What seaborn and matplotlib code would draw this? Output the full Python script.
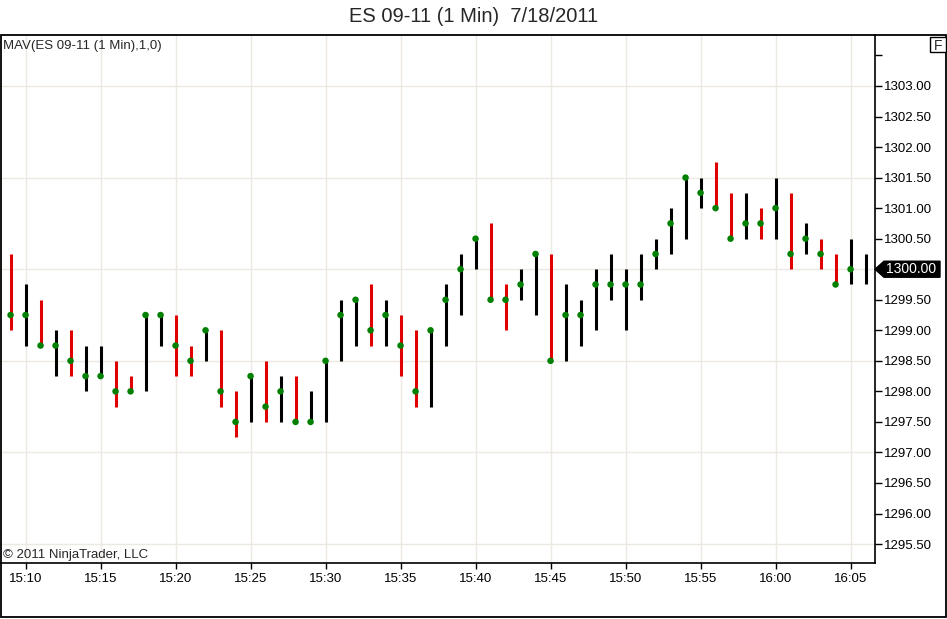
import numpy as np
import pandas as pd
import matplotlib
matplotlib.use("Agg")
import matplotlib.pyplot as plt
from matplotlib.patches import Polygon, Rectangle
from matplotlib.transforms import blended_transform_factory
import seaborn as sns

# ======================================
# DATA (1 minute bars, ES 09-11, 7/18/2011)
# ======================================

start_time = "2011-07-18 15:09"

high = [1300.25, 1299.75, 1299.50, 1299.00, 1299.00, 1298.75, 1298.75, 1298.50,
        1298.25, 1299.25, 1299.25, 1299.25, 1298.75, 1299.00, 1299.00, 1298.00,
        1298.25, 1298.50, 1298.25, 1298.25, 1298.00, 1298.50, 1299.50, 1299.50,
        1299.75, 1299.50, 1299.25, 1299.00, 1299.00, 1299.75, 1300.25, 1300.50,
        1300.75, 1299.75, 1300.00, 1300.25, 1300.25, 1299.75, 1299.50, 1300.00,
        1300.25, 1300.00, 1300.25, 1300.50, 1301.00, 1301.50, 1301.50, 1301.75,
        1301.25, 1301.25, 1301.00, 1301.50, 1301.25, 1300.75, 1300.50, 1300.25,
        1300.50, 1300.25]

low = [1299.00, 1298.75, 1298.75, 1298.25, 1298.25, 1298.00, 1298.25, 1297.75,
       1298.00, 1298.00, 1298.75, 1298.25, 1298.25, 1298.50, 1297.75, 1297.25,
       1297.50, 1297.50, 1297.50, 1297.50, 1297.50, 1297.50, 1298.50, 1298.75,
       1298.75, 1298.75, 1298.25, 1297.75, 1297.75, 1298.75, 1299.25, 1300.00,
       1299.50, 1299.00, 1299.50, 1299.25, 1298.50, 1298.50, 1298.75, 1299.00,
       1299.50, 1299.00, 1299.50, 1300.00, 1300.25, 1300.50, 1301.00, 1301.00,
       1300.50, 1300.50, 1300.50, 1300.50, 1300.00, 1300.25, 1300.00, 1299.75,
       1299.75, 1299.75]

# MAV(close, 1) -- last bar still open, no value drawn
mav = [1299.25, 1299.25, 1298.75, 1298.75, 1298.50, 1298.25, 1298.25, 1298.00,
       1298.00, 1299.25, 1299.25, 1298.75, 1298.50, 1299.00, 1298.00, 1297.50,
       1298.25, 1297.75, 1298.00, 1297.50, 1297.50, 1298.50, 1299.25, 1299.50,
       1299.00, 1299.25, 1298.75, 1298.00, 1299.00, 1299.50, 1300.00, 1300.50,
       1299.50, 1299.50, 1299.75, 1300.25, 1298.50, 1299.25, 1299.25, 1299.75,
       1299.75, 1299.75, 1299.75, 1300.25, 1300.75, 1301.50, 1301.25, 1301.00,
       1300.50, 1300.75, 1300.75, 1301.00, 1300.25, 1300.50, 1300.25, 1299.75,
       1300.00, np.nan]

direction = ["down", "up", "down", "up", "down", "up", "up", "down",
             "down", "up", "up", "down", "down", "up", "down", "down",
             "up", "down", "up", "down", "up", "up", "up", "up",
             "down", "up", "down", "down", "up", "up", "up", "up",
             "down", "down", "up", "up", "down", "up", "up", "up",
             "up", "up", "up", "up", "up", "up", "up", "down",
             "down", "up", "down", "up", "down", "up", "down", "down",
             "up", "up"]

last_price = 1300.00
title = "ES 09-11 (1 Min)  7/18/2011"
indicator_label = "MAV(ES 09-11 (1 Min),1,0)"
copyright_label = "\u00a9 2011 NinjaTrader, LLC"

# ======================================
# BUILD FRAME
# ======================================

times = pd.date_range(start_time, periods=len(high), freq="min")

df = pd.DataFrame({
    "time": times,
    "high": high,
    "low": low,
    "mav": mav,
    "direction": direction,
})
df["x"] = np.arange(len(df))

# ======================================
# STYLE
# ======================================

sns.set_style("white")
plt.rcParams["font.family"] = ["Liberation Sans", "DejaVu Sans"]

W, H = 947, 619
fig = plt.figure(figsize=(W / 100, H / 100), dpi=100)

ax_left, ax_right, ax_top, ax_bottom = 0.5, 875, 35, 563
ax = fig.add_axes([
    ax_left / W,
    1 - ax_bottom / H,
    (ax_right - ax_left) / W,
    (ax_bottom - ax_top) / H,
])

ymin, ymax = 1295.19, 1303.835
ax.set_xlim(-0.67, 57.63)
ax.set_ylim(ymin, ymax)

# grid
tick_mask = df["time"].dt.minute % 5 == 0
xticks = df.loc[tick_mask, "x"].tolist()
xlabels = df.loc[tick_mask, "time"].dt.strftime("%H:%M").tolist()

grid_color = "#ece9e3"
for xv in xticks:
    ax.axvline(xv, color=grid_color, lw=1, zorder=0)
for yv in np.arange(1295.5, 1303.01, 1.5):
    ax.axhline(yv, color=grid_color, lw=1, zorder=0)

# ======================================
# BARS + MAV DOTS
# ======================================

colors = {"up": "black", "down": "#e00000"}

for d, sub in df.groupby("direction"):
    ax.vlines(sub["x"], sub["low"], sub["high"],
              colors=colors[d], lw=2.2, zorder=2)

sns.scatterplot(
    data=df.dropna(subset=["mav"]),
    x="x", y="mav",
    color="#008000", s=22, edgecolor="none",
    ax=ax, zorder=3, legend=False,
)

# ======================================
# AXES
# ======================================

for side in ["left", "top"]:
    ax.spines[side].set_visible(False)
for side in ["right", "bottom"]:
    ax.spines[side].set_visible(True)
    ax.spines[side].set_color("black")
    ax.spines[side].set_linewidth(1.2)

ax.yaxis.tick_right()
yticks = np.arange(1295.5, 1303.51, 0.5)
ax.set_yticks(yticks)
# the 1300.00 label sits under the last-price marker
ax.set_yticklabels([
    "" if (v > 1303.0 or v == last_price) else f"{v:.2f}" for v in yticks
])
ax.set_xticks(xticks)
ax.set_xticklabels(xlabels)

ax.tick_params(axis="y", direction="out", length=5, width=1,
               pad=1.5, labelsize=9.5, colors="black", right=True, left=False)
ax.tick_params(axis="x", direction="out", length=4, width=1,
               pad=3, labelsize=9.5, colors="black", bottom=True)
ax.set_xlabel("")
ax.set_ylabel("")

# ======================================
# LAST PRICE MARKER
# ======================================

ppu = (ax_bottom - ax_top) / (ymax - ymin)
half = 8 / ppu
x0, x1, x2 = 875 / W, 884 / W, 940 / W
trans = blended_transform_factory(fig.transFigure, ax.transData)
marker = Polygon(
    [(x0, last_price), (x1, last_price + half), (x2, last_price + half),
     (x2, last_price - half), (x1, last_price - half)],
    closed=True, transform=trans, facecolor="black", edgecolor="black",
    clip_on=False, zorder=5,
)
fig.add_artist(marker)
fig.text((x1 + x2) / 2 - 1 / W, last_price, f"{last_price:.2f}",
         transform=trans, color="white", fontsize=10,
         ha="center", va="center", zorder=6)

# ======================================
# TEXTS + FRAME
# ======================================

fig.text(0.5, 1 - 17 / H, title, fontsize=14.5, ha="center", va="center")
fig.text(3 / W, 1 - 46 / H, indicator_label, fontsize=9.5,
         ha="left", va="center")
fig.text(3 / W, 1 - 555 / H, copyright_label, fontsize=9.5,
         ha="left", va="center")

fig.add_artist(Rectangle(
    (930 / W, 1 - 52 / H), 15.5 / W, 15 / H,
    transform=fig.transFigure, fill=True, facecolor="white",
    edgecolor="black", lw=1, zorder=5,
))
fig.text(938 / W, 1 - 44.5 / H, "F", fontsize=10, ha="center",
         va="center_baseline", zorder=6)

fig.add_artist(Rectangle(
    (0.6 / W, 1.6 / H), 945.2 / W, (H - ax_top - 1.6) / H,
    transform=fig.transFigure, fill=False, edgecolor="black", lw=1.3,
))

fig.savefig("out.png", dpi=100)
plt.close(fig)
